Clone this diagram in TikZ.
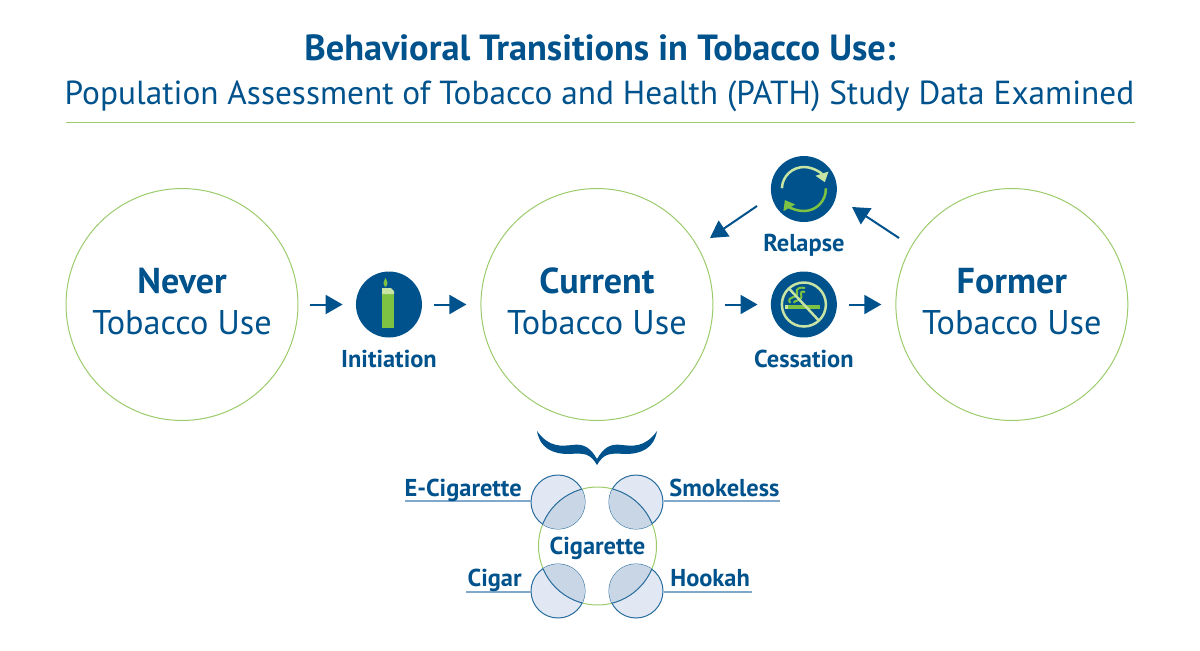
\documentclass[tikz,border=0pt]{standalone}
\usepackage{fontspec}
\usepackage{xcolor}
\usepackage{tikz}
\usetikzlibrary{positioning}
\usetikzlibrary{arrows.meta}
\setmainfont{PT Sans}
\definecolor{navy}{HTML}{00528C}
\definecolor{leaf}{HTML}{7DC242}
\definecolor{pale}{HTML}{C8E4A4}
\definecolor{rim}{HTML}{9CCB6C}
\definecolor{mist}{HTML}{E1E8F3}
\definecolor{overlap}{HTML}{C9D6E6}
\definecolor{wire}{HTML}{7FA8CB}
\newcommand{\stagename}[1]{{\bfseries\fontsize{20.5}{23.2}\selectfont #1}}
\tikzset{
  stage/.style={circle,draw=rim,line width=0.02cm,minimum size=4.64cm,align=center,text=navy,
    text depth=0.12cm,font=\fontsize{19.5}{23.2}\selectfont},
  icon/.style={circle,fill=navy,minimum size=1.32cm,inner sep=0pt},
  lbl/.style={text=navy,font=\bfseries\fontsize{13.9}{15}\selectfont,inner sep=0pt},
  flow/.style={-{Triangle[length=0.34cm,width=0.38cm]},draw=navy,line width=0.04cm},
  dot/.style={circle,draw=navy!85,line width=0.02cm,fill=mist,minimum size=1.08cm,inner sep=0pt},
  tick/.style={draw=wire,line width=0.024cm}
}
\begin{document}
\begin{tikzpicture}[x=0.02cm,y=-0.02cm]
\useasboundingbox (0,0) rectangle (1200,650);

% heading
\node[text=navy,font=\bfseries\fontsize{20.7}{22}\selectfont,inner sep=0pt] (head) at (600,48) {Behavioral Transitions in Tobacco Use:};
\node[text=navy,font=\fontsize{18.97}{21}\selectfont,inner sep=0pt] (subhead) at (599.5,96) {Population Assessment of Tobacco and Health (PATH) Study Data Examined};
\coordinate (ruleL) at (66,122);
\coordinate (ruleR) at (1135,122);
\draw[draw=rim,line width=0.02cm] (ruleL) -- (ruleR);

% stages
\node[stage] (never) at (182,304.5) {\stagename{Never}\\Tobacco Use};
\node[stage] (current) [right of=never,node distance=8.3cm] {\stagename{Current}\\Tobacco Use};
\node[stage] (former) [right of=current,node distance=8.3cm] {\stagename{Former}\\Tobacco Use};

% steps
\node[icon] (initiation) [right of=never,node distance=4.14cm] {};
\node[icon] (cessation) [right of=current,node distance=4.14cm] {};
\node[icon] (relapse) [above of=cessation,node distance=2.31cm] {};
\node[lbl] (initlbl) [below of=initiation,node distance=1.08cm] {Initiation};
\node[lbl] (cesslbl) [below of=cessation,node distance=1.08cm] {Cessation};
\node[lbl] (rellbl) [below of=relapse,node distance=1.12cm] {Relapse};

\draw[flow,shorten <=0.24cm,shorten >=0.26cm] (never) -- (initiation);
\draw[flow,shorten <=0.24cm,shorten >=0.28cm] (initiation) -- (current);
\draw[flow,shorten <=0.24cm,shorten >=0.26cm] (current) -- (cessation);
\draw[flow,shorten <=0.24cm,shorten >=0.28cm] (cessation) -- (former);
\coordinate (relA) at (757,206);
\coordinate (relB) at (710,238);
\coordinate (relC) at (899,238);
\coordinate (relD) at (852,207);
\draw[flow] (relA) -- (relB);
\draw[flow] (relC) -- (relD);

% lighter
\fill[leaf] (382,294) rectangle (394,328);
\fill[pale] (382,288) -- (391,288) -- (394,291) -- (394,294) -- (382,294) -- cycle;
\fill[leaf] (385.5,287) .. controls (382,284) and (384,281) .. (385.5,278) .. controls (387,281) and (389,284) .. (385.5,287);

% cycle arrows
\draw[pale,line width=0.05cm,-{Triangle[length=0.18cm,width=0.26cm]}] (relapse) ++(-178:22) arc[start angle=-178,end angle=-18,radius=22];
\draw[leaf,line width=0.05cm,-{Triangle[length=0.18cm,width=0.26cm]}] (relapse) ++(-2:22) arc[start angle=-2,end angle=150,radius=22];

% no smoking
\fill[leaf] (788,304.5) rectangle (820,308.5);
\fill[pale] (785,304.5) rectangle (788,308.5);
\draw[leaf,line width=0.04cm] (790,303) .. controls (786,295) and (799,299) .. (797,293) .. controls (795,288) and (801,287) .. (805,288);
\draw[leaf,line width=0.04cm] (794,303) .. controls (792,300) and (804,302) .. (801,294) .. controls (800,292) and (802,291) .. (805,292);
\draw[pale,line width=0.05cm] (cessation) circle (22);
\draw[pale,line width=0.05cm] (cessation) ++(-133:22) -- ++(47:44);

% brace
\fill[navy] (537,431) .. controls (549,448) and (562,446) .. (572,445) .. controls (585,443) and (591,449) .. (597,459)
  .. controls (603,449) and (609,443) .. (622,445) .. controls (632,446) and (645,448) .. (657,431)
  .. controls (654,448) and (642,454) .. (625,454) .. controls (610,453) and (604,453) .. (597,465)
  .. controls (590,453) and (584,453) .. (569,454) .. controls (552,454) and (540,448) .. (537,431) -- cycle;

% overlap
\node[stage,minimum size=2.36cm,text depth=0pt,font=\bfseries\fontsize{13.9}{15}\selectfont,inner sep=0pt] (cigarette) at (597.5,546) {Cigarette};
\node[dot] (ecig) at (558,502) {};
\node[dot] (smokeless) at (636,502) {};
\node[dot] (cigar) at (558,591) {};
\node[dot] (hookah) at (636,591) {};
\foreach \tobacco in {ecig,smokeless,cigar,hookah}{
  \begin{scope}
    \clip (\tobacco) circle (27);
    \fill[overlap] (cigarette) circle (59);
    \draw[navy!85,line width=0.02cm] (cigarette) circle (59);
  \end{scope}
}

% labels
\coordinate (ecigend) at (405,501);
\coordinate (smokeend) at (780,501);
\coordinate (cigarend) at (466,592);
\coordinate (hookahend) at (752,592);
\draw[tick] (ecigend) -- (ecig.west |- ecigend);
\draw[tick] (smokeend) -- (smokeless.east |- smokeend);
\draw[tick] (cigarend) -- (cigar.west |- cigarend);
\draw[tick] (hookahend) -- (hookah.east |- hookahend);
\node[lbl,anchor=base east] (ecigtxt) at (522,496) {E-Cigarette};
\node[lbl,anchor=base west] (smoketxt) at (669,496) {Smokeless};
\node[lbl,anchor=base east] (cigartxt) at (522,586) {Cigar};
\node[lbl,anchor=base west] (hookahtxt) at (670,586) {Hookah};
\end{tikzpicture}
\end{document}
